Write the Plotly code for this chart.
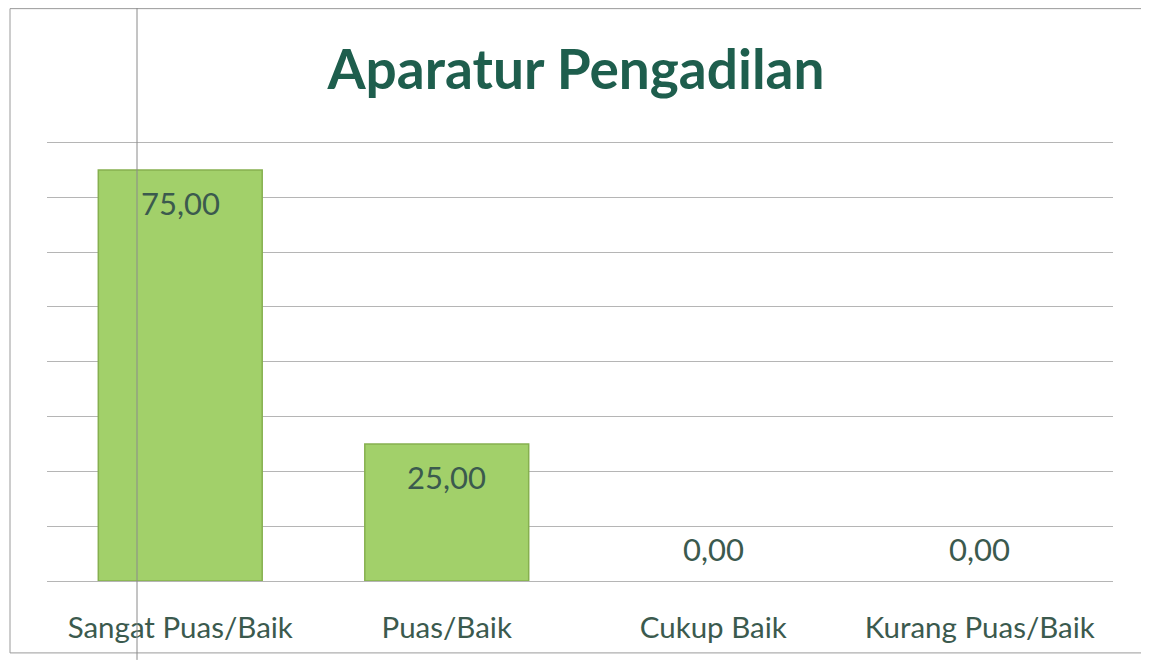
import plotly.graph_objects as go

categories = ["Sangat Puas/Baik", "Puas/Baik", "Cukup Baik", "Kurang Puas/Baik"]
values = [75.00, 25.00, 0.00, 0.00]
title_text = "Aparatur Pengadilan"

labels = [f"{v:.2f}".replace(".", ",") for v in values]

# page body has an 8px margin; work in reference pixel coordinates and compensate
OFF = 8
W, H = 1149 - OFF, 660 - OFF
base_px, top_px = 581, 142          # reference pixel rows of 0 and 80
y_max = 81.0
unit = (base_px - top_px) / 80.0
plot_top = base_px - unit * y_max
ml, mr = 47 - OFF, 36
mt = plot_top - OFF
mb = H - (base_px - OFF)
pw, ph = W - ml - mr, H - mt - mb


def px_x(x):
    return (x - OFF - ml) / pw


def px_y(y):
    return (H - mb - (y - OFF)) / ph


fig = go.Figure()
fig.add_trace(go.Bar(
    x=categories, y=values,
    marker=dict(color="#a2d06a",
                line=dict(color="#86b04f", width=[1.5 if v > 0 else 0 for v in values])),
    hoverinfo="x+y",
))

text_color = "#3b5a4e"
font_family = "Lato, Carlito, sans-serif"
for c, v, t in zip(categories, values, labels):
    fig.add_annotation(
        x=c, y=v, xref="x", yref="y", text=t, showarrow=False,
        yshift=(-33 if v > 0 else 32),
        font=dict(family=font_family, size=31, color=text_color),
    )

fig.update_layout(
    width=W, height=H,
    margin=dict(l=ml, r=mr, t=mt, b=mb),
    paper_bgcolor="white", plot_bgcolor="white",
    bargap=0.385,
    showlegend=False,
    title=dict(
        text=f"<b>{title_text}</b>", x=(576 - OFF) / W, xanchor="center",
        y=1 - (70 - OFF) / H, yanchor="middle", xref="container", yref="container",
        font=dict(family=font_family, size=55, color="#1e5e4d"),
    ),
    xaxis=dict(
        showgrid=False, showline=False, ticks="", zeroline=False,
        tickfont=dict(family=font_family, size=29.5, color=text_color),
        ticklabelstandoff=26,
    ),
    yaxis=dict(
        range=[0, y_max], tick0=0, dtick=10, showticklabels=False, showline=False,
        gridcolor="#b5b5b5", gridwidth=1, zeroline=True, zerolinecolor="#b5b5b5",
        zerolinewidth=1, ticks="",
    ),
    shapes=[
        dict(type="rect", xref="paper", yref="paper",
             x0=px_x(10), x1=px_x(1143), y0=px_y(653), y1=px_y(8),
             line=dict(color="#9a9a9a", width=1), layer="below"),
        dict(type="line", xref="paper", yref="paper",
             x0=px_x(137), x1=px_x(137), y0=px_y(660), y1=px_y(0),
             line=dict(color="#8a8a8a", width=1), layer="above"),
    ],
)

fig.write_html("out.html")
